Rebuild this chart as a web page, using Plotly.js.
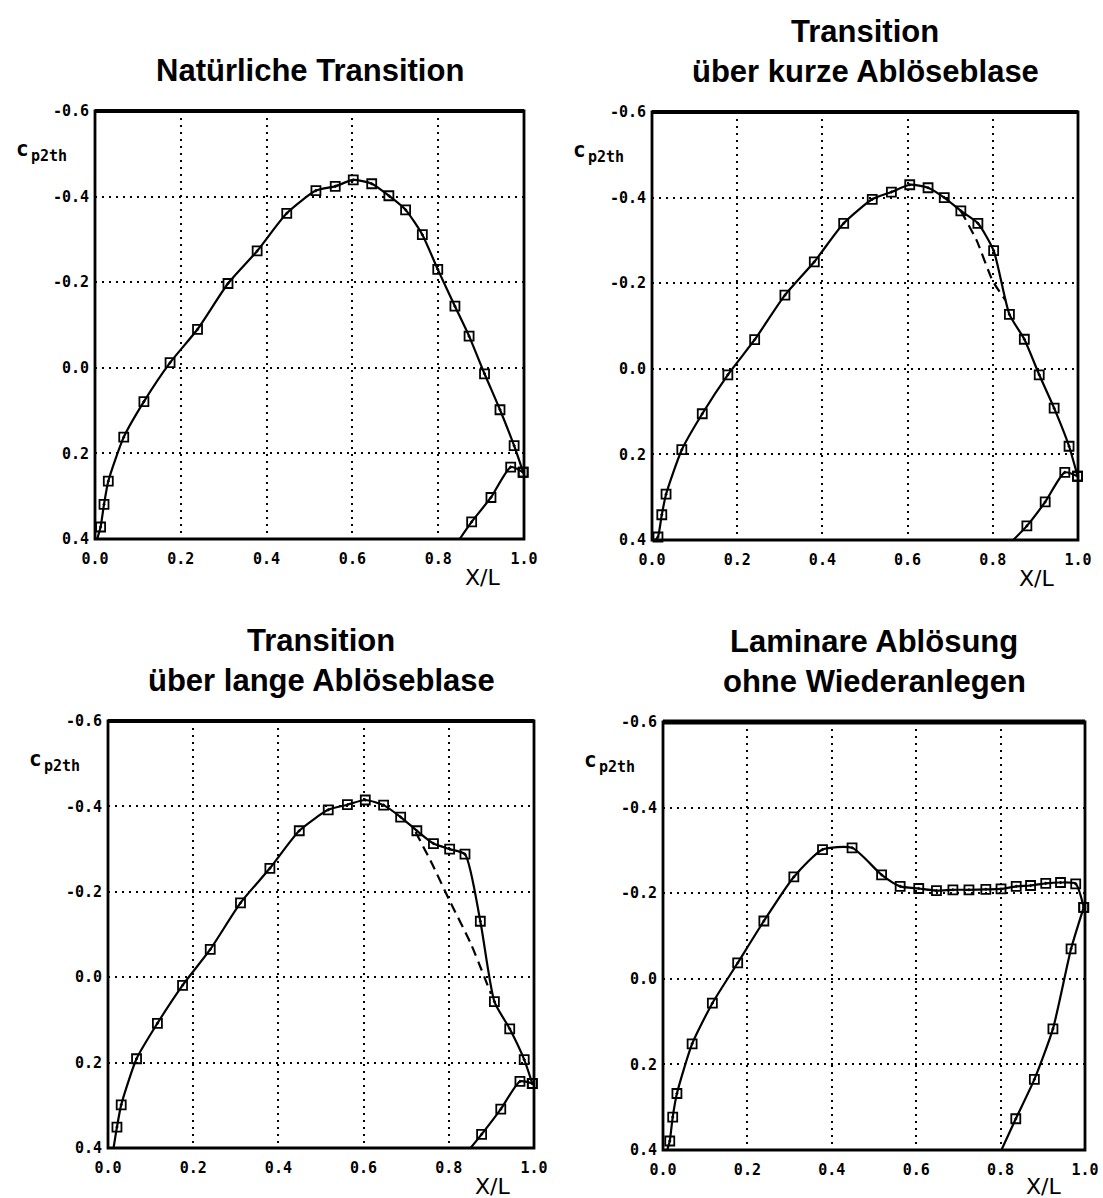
<!DOCTYPE html>
<html>
<head>
<meta charset="utf-8">
<script src="https://cdn.plot.ly/plotly-3.0.1.min.js"></script>
<style>html,body{margin:0;padding:0;background:#fff;}#chart{width:1103px;height:1198px;}</style>
</head>
<body>
<div id="chart"></div>
<script>
// ---------- DATA ----------
const titles = [
  ["Natürliche Transition"],
  ["Transition", "über kurze Ablöseblase"],
  ["Transition", "über lange Ablöseblase"],
  ["Laminare Ablösung", "ohne Wiederanlegen"]
];
const xTickVals = [0, 0.2, 0.4, 0.6, 0.8, 1.0];
const xTickText = ["0.0", "0.2", "0.4", "0.6", "0.8", "1.0"];
const yTickVals = [-0.6, -0.4, -0.2, 0.0, 0.2, 0.4];
const yTickText = ["-0.6", "-0.4", "-0.2", "0.0", "0.2", "0.4"];
const xLabel = "X/L";
const yLabelMain = "c";
const yLabelSub = "p2th";

// Panel 1: natural transition
const x1u = [0.005, 0.013, 0.021, 0.031, 0.067, 0.114, 0.175, 0.239, 0.310, 0.378, 0.447, 0.515, 0.560, 0.602, 0.645, 0.685, 0.724, 0.763, 0.799, 0.839, 0.872, 0.908, 0.944, 0.977, 0.998];
const y1u = [0.40, 0.372, 0.319, 0.265, 0.162, 0.079, -0.012, -0.090, -0.197, -0.273, -0.361, -0.414, -0.424, -0.439, -0.430, -0.402, -0.369, -0.311, -0.230, -0.144, -0.074, 0.014, 0.098, 0.182, 0.244];
const x1l = [0.850, 0.878, 0.923, 0.969, 0.998];
const y1l = [0.40, 0.360, 0.303, 0.232, 0.244];

// Panel 2: short separation bubble
const x2u = [0.008, 0.014, 0.023, 0.033, 0.070, 0.118, 0.178, 0.241, 0.312, 0.381, 0.450, 0.517, 0.562, 0.605, 0.648, 0.686, 0.725, 0.765, 0.802, 0.839, 0.874, 0.909, 0.944, 0.979, 0.999];
const y2u = [0.40, 0.393, 0.341, 0.293, 0.189, 0.105, 0.014, -0.068, -0.172, -0.250, -0.340, -0.396, -0.413, -0.430, -0.423, -0.400, -0.369, -0.340, -0.276, -0.127, -0.069, 0.014, 0.092, 0.181, 0.251];
const x2l = [0.848, 0.880, 0.923, 0.969, 0.999];
const y2l = [0.40, 0.367, 0.311, 0.242, 0.251];
const x2d = [0.725, 0.762, 0.800, 0.830];
const y2d = [-0.369, -0.300, -0.205, -0.160];

// Panel 3: long separation bubble
const x3u = [0.013, 0.021, 0.031, 0.067, 0.116, 0.175, 0.240, 0.311, 0.380, 0.449, 0.517, 0.562, 0.604, 0.647, 0.687, 0.725, 0.764, 0.802, 0.838, 0.874, 0.907, 0.943, 0.977, 0.996];
const y3u = [0.40, 0.351, 0.299, 0.191, 0.108, 0.019, -0.065, -0.174, -0.255, -0.343, -0.392, -0.404, -0.415, -0.403, -0.375, -0.343, -0.313, -0.300, -0.288, -0.131, 0.057, 0.121, 0.193, 0.249];
const x3l = [0.851, 0.877, 0.922, 0.967, 0.996];
const y3l = [0.40, 0.368, 0.309, 0.244, 0.249];
const x3d = [0.722, 0.761, 0.802, 0.852, 0.899];
const y3d = [-0.340, -0.265, -0.179, -0.078, 0.039];

// Panel 4: laminar separation without reattachment
const x4u = [0.010, 0.016, 0.023, 0.033, 0.069, 0.117, 0.177, 0.239, 0.310, 0.378, 0.448, 0.518, 0.562, 0.606, 0.648, 0.687, 0.725, 0.765, 0.801, 0.837, 0.871, 0.907, 0.942, 0.978, 0.997];
const y4u = [0.40, 0.379, 0.323, 0.268, 0.152, 0.057, -0.037, -0.135, -0.238, -0.302, -0.306, -0.243, -0.216, -0.211, -0.206, -0.208, -0.208, -0.209, -0.210, -0.216, -0.218, -0.223, -0.225, -0.222, -0.167];
const x4l = [0.802, 0.836, 0.880, 0.924, 0.967, 0.997];
const y4l = [0.40, 0.327, 0.235, 0.117, -0.070, -0.167];

// ---------- LAYOUT ----------
const W = 1103, H = 1198;
const frames = [
  {l: 95, r: 524, t: 111, b: 539},
  {l: 652, r: 1078, t: 112, b: 540},
  {l: 108, r: 534, t: 721, b: 1148},
  {l: 663, r: 1085, t: 722, b: 1150}
];
const panels = [
  {u: [x1u, y1u], l: [x1l, y1l], d: null},
  {u: [x2u, y2u], l: [x2l, y2l], d: [x2d, y2d]},
  {u: [x3u, y3u], l: [x3l, y3l], d: [x3d, y3d]},
  {u: [x4u, y4u], l: [x4l, y4l], d: null}
];

const tickFont = {family: "DejaVu Sans Mono", size: 15, color: "#000", weight: "bold"};
const titleFont = {family: "Liberation Sans, Arial, sans-serif", size: 31, color: "#000", weight: "bold"};
const px = v => v / W;
const py = v => 1 - v / H;

const data = [];
const layout = {
  width: W, height: H,
  margin: {l: 0, r: 0, t: 0, b: 0},
  paper_bgcolor: "#fff", plot_bgcolor: "#fff",
  showlegend: false,
  annotations: [], shapes: []
};

const lineStyle = {color: "#000", width: 2.2, shape: "spline", smoothing: 0.6};
const markerStyle = {symbol: "square-open-dot", size: 9, color: "#000", line: {color: "#000", width: 1.8}};

panels.forEach((p, i) => {
  const n = i + 1;
  const xa = "x" + (n === 1 ? "" : n), ya = "y" + (n === 1 ? "" : n);
  const f = frames[i];
  [p.u, p.l].forEach(c => {
    data.push({x: c[0], y: c[1], xaxis: xa, yaxis: ya, mode: "lines", line: lineStyle, hoverinfo: "skip"});
    data.push({x: c[0].slice(1), y: c[1].slice(1), xaxis: xa, yaxis: ya, mode: "markers", marker: markerStyle, cliponaxis: false, hoverinfo: "skip"});
  });
  if (p.d) {
    data.push({x: p.d[0], y: p.d[1], xaxis: xa, yaxis: ya, mode: "lines",
      line: {color: "#000", width: 2.2, dash: "10px,6px", shape: "spline", smoothing: 0.6}, hoverinfo: "skip"});
  }
  layout["xaxis" + (n === 1 ? "" : n)] = {
    domain: [px(f.l), px(f.r)], anchor: ya, range: [0, 1],
    tickvals: xTickVals, ticktext: xTickText, tickfont: tickFont,
    ticks: "outside", ticklen: 6, tickcolor: "rgba(0,0,0,0)",
    showgrid: true, gridcolor: "#000", gridwidth: 2, griddash: "2px,5px",
    zeroline: false, showline: false, fixedrange: true
  };
  layout["yaxis" + (n === 1 ? "" : n)] = {
    domain: [py(f.b), py(f.t)], anchor: xa, range: [0.4, -0.6],
    tickvals: yTickVals, ticktext: yTickText, tickfont: tickFont,
    ticks: "outside", ticklen: 2, tickcolor: "rgba(0,0,0,0)",
    showgrid: true, gridcolor: "#000", gridwidth: 2, griddash: "2px,5px",
    zeroline: false, showline: false, fixedrange: true
  };
  // frame
  layout.shapes.push({type: "rect", xref: xa + " domain", yref: ya + " domain", x0: 0, x1: 1, y0: 0, y1: 1,
    line: {color: "#000", width: 2.8}, fillcolor: "rgba(0,0,0,0)"});
  layout.shapes.push({type: "line", xref: xa + " domain", yref: ya + " domain", x0: 0, x1: 1, y0: 1, y1: 1,
    line: {color: "#000", width: i === 3 ? 5 : 3.8}});
  // titles
  const cx = (f.l + f.r) / 2;
  const lines = titles[i];
  lines.forEach((t, k) => {
    const yy = f.t - 40 - (lines.length - 1 - k) * 41;
    layout.annotations.push({text: t, xref: "paper", yref: "paper", x: px(cx), y: py(yy),
      xanchor: "center", yanchor: "middle", showarrow: false, font: titleFont});
  });
  // axis labels
  layout.annotations.push({text: xLabel, xref: "paper", yref: "paper", x: px(f.r - 42), y: py(Math.min(f.b + 38, 1186)),
    xanchor: "center", yanchor: "middle", showarrow: false,
    font: {family: "DejaVu Sans", size: 22, color: "#000"}});
  layout.annotations.push({text: yLabelMain, xref: "paper", yref: "paper", x: px(f.l - 81), y: py(f.t + 38),
    xanchor: "left", yanchor: "middle", showarrow: false,
    font: {family: "DejaVu Sans Mono", size: 21, color: "#000", weight: "bold"}});
  layout.annotations.push({text: yLabelSub, xref: "paper", yref: "paper", x: px(f.l - 66), y: py(f.t + 45),
    xanchor: "left", yanchor: "middle", showarrow: false,
    font: {family: "DejaVu Sans Mono", size: 15, color: "#000", weight: "bold"}});
});

Plotly.newPlot("chart", data, layout, {staticPlot: true, displayModeBar: false});
</script>
</body>
</html>
